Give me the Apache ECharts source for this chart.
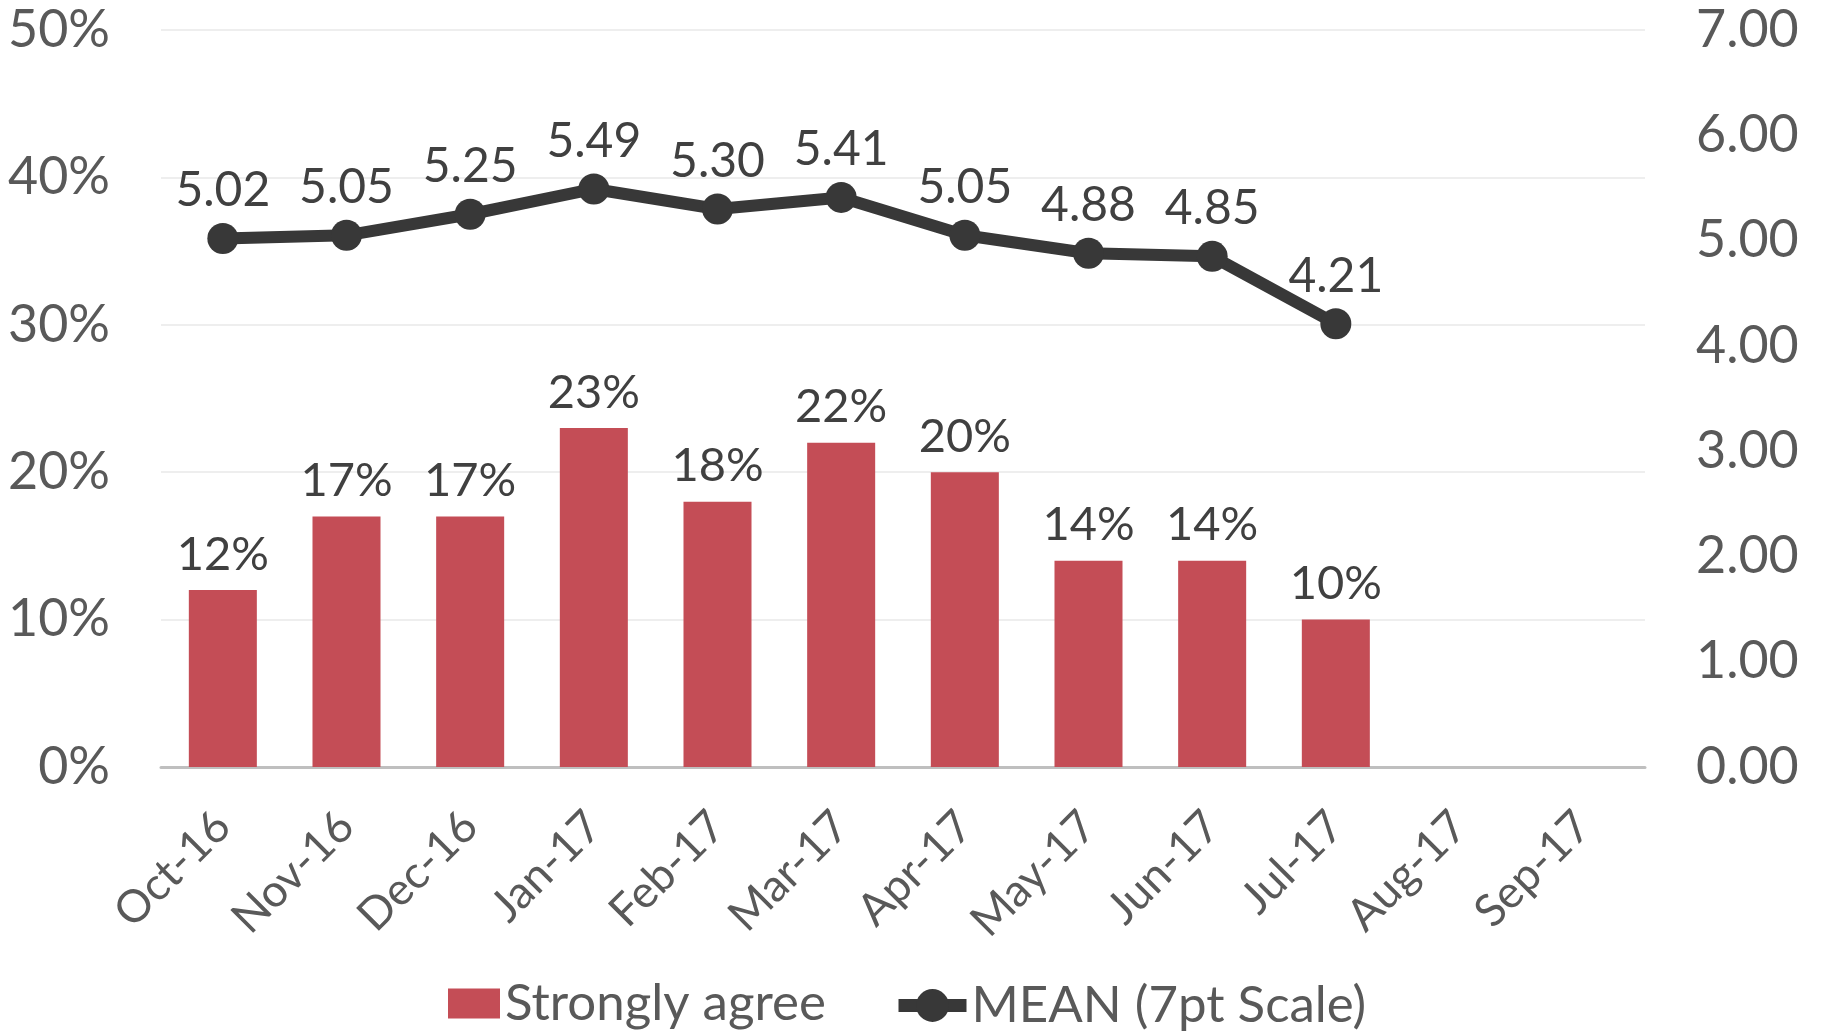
<!DOCTYPE html>
<html>
<head>
<meta charset="utf-8">
<script src="https://cdn.jsdelivr.net/npm/echarts@6/dist/echarts.min.js"></script>
<style>
  html, body { margin: 0; padding: 0; background: #ffffff; }
  #chart { width: 1821px; height: 1032px; }
</style>
</head>
<body>
<div id="chart"></div>
<script>
// Monthly survey results
const months = ['Oct-16', 'Nov-16', 'Dec-16', 'Jan-17', 'Feb-17', 'Mar-17',
                'Apr-17', 'May-17', 'Jun-17', 'Jul-17', 'Aug-17', 'Sep-17'];
// share answering "Strongly agree" (fraction)
const stronglyAgree = [0.12, 0.17, 0.17, 0.23, 0.18, 0.22, 0.20, 0.14, 0.14, 0.10, null, null];
// mean score on the 7-point scale
const meanScore = [5.02, 5.05, 5.25, 5.49, 5.30, 5.41, 5.05, 4.88, 4.85, 4.21, null, null];

const FONT = 'Lato, "Noto Sans", sans-serif';
const AXIS_TEXT = '#595959';
const LABEL_TEXT = '#404040';
const BAR_COLOR = '#C44D56';
const LINE_COLOR = '#383838';

const legendText = { fontSize: 51, color: AXIS_TEXT, fontFamily: FONT };

const chart = echarts.init(document.getElementById('chart'), null, { renderer: 'canvas' });

chart.setOption({
  animation: false,
  backgroundColor: '#ffffff',
  textStyle: { fontFamily: FONT },
  grid: { left: 161, right: 176, top: 30, bottom: 265, containLabel: false },
  legend: [
    {
      left: 448,
      top: 978,
      padding: 0,
      itemWidth: 52,
      itemHeight: 30,
      textStyle: legendText,
      data: [{ name: 'Strongly agree', icon: 'rect' }]
    },
    {
      left: 892,
      top: 980,
      padding: 0,
      itemWidth: 68,
      itemHeight: 41,
      lineStyle: { width: 13 },
      textStyle: legendText,
      data: [{ name: 'MEAN (7pt Scale)' }]
    }
  ],
  xAxis: {
    type: 'category',
    data: months,
    axisTick: { show: false },
    axisLine: { lineStyle: { color: '#bfbfbf', width: 3 } },
    axisLabel: {
      rotate: 45,
      interval: 0,
      margin: 52,
      fontSize: 45,
      color: AXIS_TEXT,
      fontFamily: FONT
    }
  },
  yAxis: [
    {
      type: 'value',
      min: 0,
      max: 0.5,
      interval: 0.1,
      axisLine: { show: false },
      axisTick: { show: false },
      splitLine: { lineStyle: { color: '#eeeeee', width: 2 } },
      axisLabel: {
        margin: 51,
        fontSize: 52,
        color: AXIS_TEXT,
        fontFamily: FONT,
        formatter: v => Math.round(v * 100) + '%'
      }
    },
    {
      type: 'value',
      min: 0,
      max: 7,
      interval: 1,
      position: 'right',
      axisLine: { show: false },
      axisTick: { show: false },
      splitLine: { show: false },
      axisLabel: {
        margin: 51,
        fontSize: 52,
        color: AXIS_TEXT,
        fontFamily: FONT,
        formatter: v => v.toFixed(2)
      }
    }
  ],
  series: [
    {
      name: 'Strongly agree',
      type: 'bar',
      yAxisIndex: 0,
      data: stronglyAgree,
      barWidth: '55%',
      itemStyle: { color: BAR_COLOR },
      label: {
        show: true,
        position: 'top',
        distance: 12,
        fontSize: 47,
        color: LABEL_TEXT,
        fontFamily: FONT,
        formatter: p => Math.round(p.value * 100) + '%'
      }
    },
    {
      name: 'MEAN (7pt Scale)',
      type: 'line',
      yAxisIndex: 1,
      data: meanScore,
      symbol: 'circle',
      symbolSize: 31,
      lineStyle: { color: LINE_COLOR, width: 12 },
      itemStyle: { color: LINE_COLOR },
      label: {
        show: true,
        position: 'top',
        distance: 8,
        fontSize: 48,
        color: LABEL_TEXT,
        fontFamily: FONT,
        formatter: p => p.value.toFixed(2)
      }
    }
  ]
});
</script>
</body>
</html>
